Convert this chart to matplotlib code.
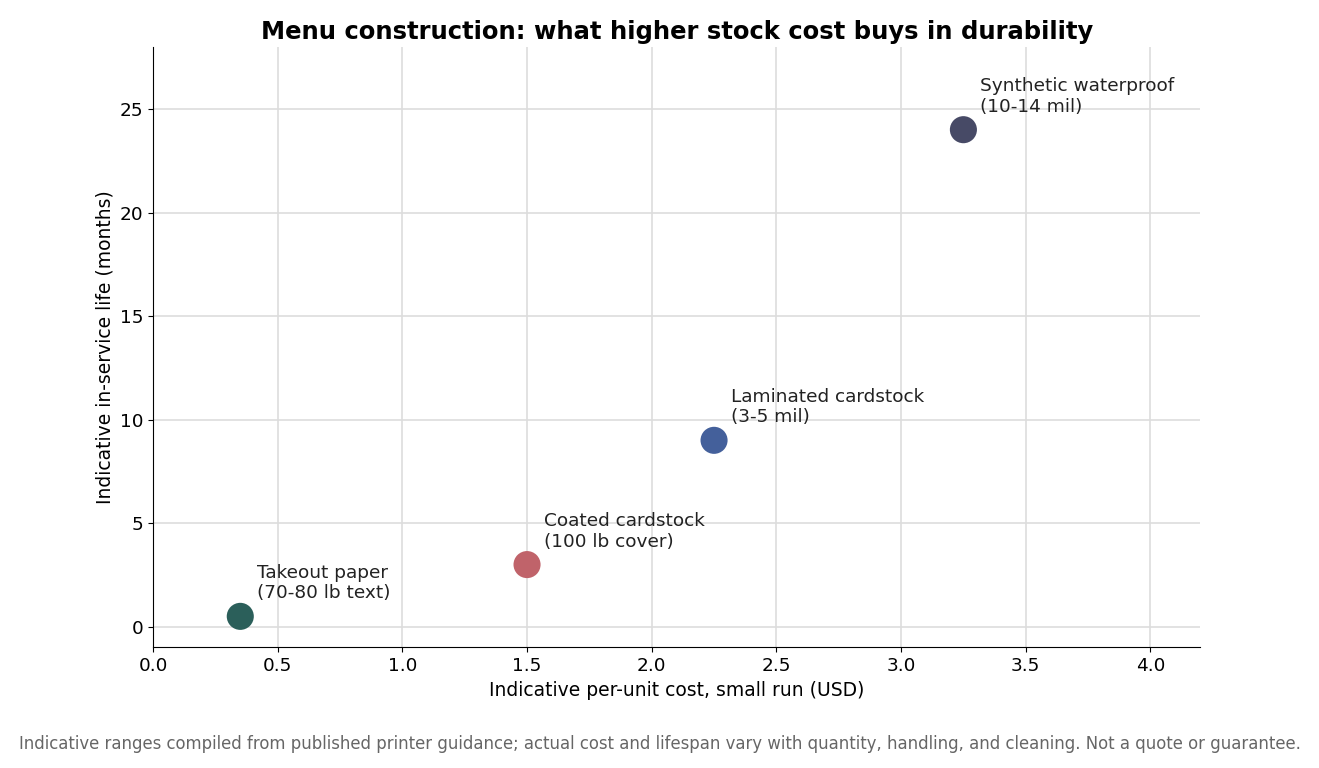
import matplotlib
matplotlib.use("Agg")
import matplotlib.pyplot as plt

labels = ["Takeout paper\n(70-80 lb text)", "Coated cardstock\n(100 lb cover)",
          "Laminated cardstock\n(3-5 mil)", "Synthetic waterproof\n(10-14 mil)"]
cost = [0.35, 1.5, 2.25, 3.25]
life = [0.5, 3.0, 9.0, 24.0]
colors = ["#2b5f5a", "#c0636a", "#44609b", "#474a66"]

fig = plt.figure(figsize=(13.19, 7.68), dpi=100)
ax = fig.add_axes([0.116, 0.157, 0.794, 0.782])
ax.scatter(cost, life, s=380, c=colors, zorder=3, edgecolors="none")
for x, y, l in zip(cost, life, labels):
    ax.annotate(l, (x, y), xytext=(12, 10), textcoords="offset points",
                fontsize=13.3, color="#222222", va="bottom", ha="left")
ax.set_xlim(0, 4.2)
ax.set_ylim(-1, 28)
ax.set_xticks([0, 0.5, 1, 1.5, 2, 2.5, 3, 3.5, 4])
ax.set_yticks([0, 5, 10, 15, 20, 25])
ax.tick_params(labelsize=13.3)
ax.grid(True, color="#dddddd", linewidth=1.2)
ax.set_axisbelow(True)
for s in ["top", "right"]:
    ax.spines[s].set_visible(False)
ax.set_xlabel("Indicative per-unit cost, small run (USD)", fontsize=13.5)
ax.set_ylabel("Indicative in-service life (months)", fontsize=13.5)
ax.set_title("Menu construction: what higher stock cost buys in durability",
             fontsize=17.5, fontweight="bold", pad=6, family="DejaVu Sans")
fig.text(0.5, 0.025, "Indicative ranges compiled from published printer guidance; actual cost and lifespan vary with quantity, handling, and cleaning. Not a quote or guarantee.",
         ha="center", fontsize=11.9, color="#666666")
fig.savefig("out.png", dpi=100)
